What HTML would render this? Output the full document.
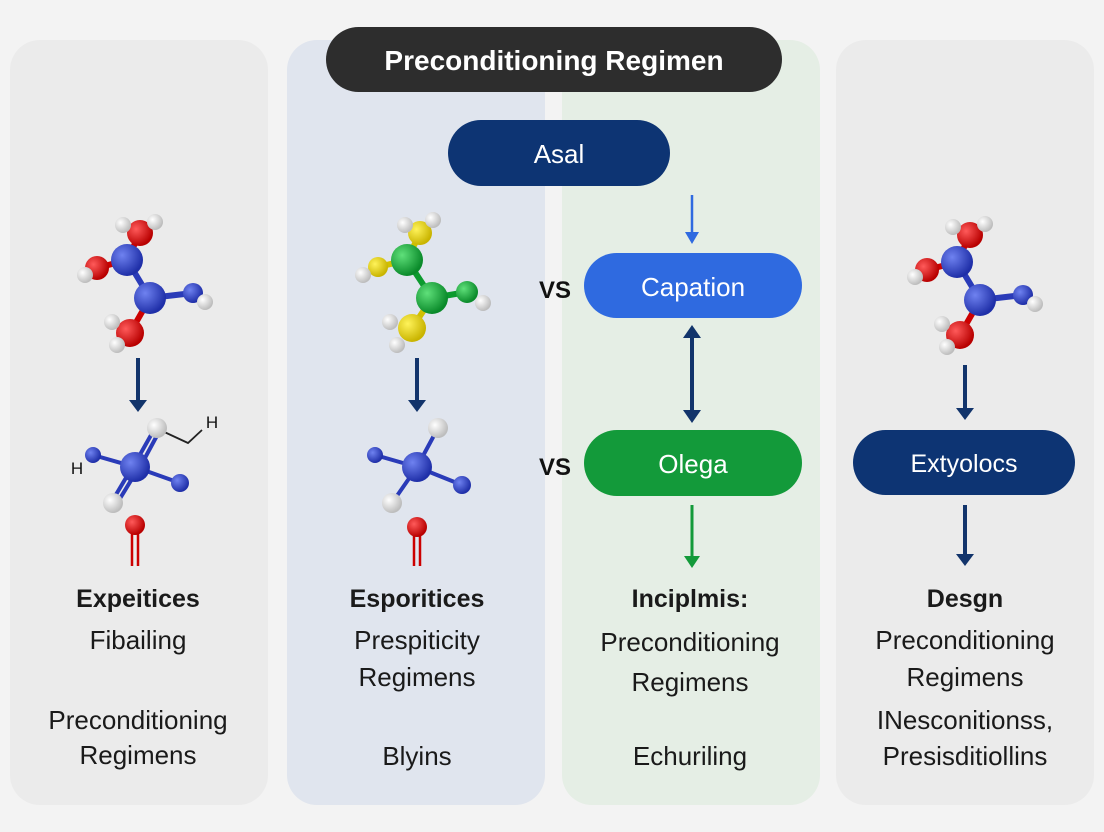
<!DOCTYPE html>
<html><head><meta charset="utf-8"><style>
html,body{margin:0;padding:0;background:#f3f3f3;}
svg{display:block;font-family:"Liberation Sans",sans-serif;}
</style></head><body>
<svg width="1104" height="832" viewBox="0 0 1104 832" xmlns="http://www.w3.org/2000/svg">
<defs>
<radialGradient id="gb" cx="35%" cy="35%" r="65%"><stop offset="0" stop-color="#6f82f0"/><stop offset="1" stop-color="#1f2fa8"/></radialGradient>
<radialGradient id="gr" cx="35%" cy="35%" r="65%"><stop offset="0" stop-color="#ff5a5a"/><stop offset="1" stop-color="#b80000"/></radialGradient>
<radialGradient id="gw" cx="35%" cy="35%" r="65%"><stop offset="0" stop-color="#ffffff"/><stop offset="1" stop-color="#bdbdbd"/></radialGradient>
<radialGradient id="gg" cx="35%" cy="35%" r="65%"><stop offset="0" stop-color="#5fe07a"/><stop offset="1" stop-color="#0a8a2a"/></radialGradient>
<radialGradient id="gy" cx="35%" cy="35%" r="65%"><stop offset="0" stop-color="#fff35a"/><stop offset="1" stop-color="#c9b400"/></radialGradient>
<marker id="an" markerWidth="8" markerHeight="8" refX="4" refY="4" orient="auto" markerUnits="userSpaceOnUse" viewBox="0 0 8 8"><path d="M0,0 L8,4 L0,8 z" fill="#12346b"/></marker>
</defs>
<rect width="1104" height="832" fill="#f3f3f3"/>
<rect x="10" y="40" width="258" height="765" rx="30" fill="#ebebeb"/>
<rect x="287" y="40" width="258" height="765" rx="30" fill="#e0e5ee"/>
<rect x="562" y="40" width="258" height="765" rx="30" fill="#e5eee5"/>
<rect x="836" y="40" width="258" height="765" rx="30" fill="#ebebeb"/>

<!-- molecule 1 -->
<g stroke-width="6" stroke-linecap="round">
<line x1="127" y1="260" x2="150" y2="298" stroke="#2a3bb8"/>
<line x1="127" y1="260" x2="140" y2="233" stroke="#c00"/>
<line x1="127" y1="260" x2="97" y2="268" stroke="#c00"/>
<line x1="150" y1="298" x2="130" y2="333" stroke="#c00"/>
<line x1="150" y1="298" x2="193" y2="293" stroke="#2a3bb8"/>
</g>
<circle cx="140" cy="233" r="13" fill="url(#gr)"/><circle cx="97" cy="268" r="12" fill="url(#gr)"/><circle cx="130" cy="333" r="14" fill="url(#gr)"/>
<circle cx="127" cy="260" r="16" fill="url(#gb)"/><circle cx="150" cy="298" r="16" fill="url(#gb)"/><circle cx="193" cy="293" r="10" fill="url(#gb)"/>
<g fill="url(#gw)"><circle cx="123" cy="225" r="8"/><circle cx="155" cy="222" r="8"/><circle cx="85" cy="275" r="8"/><circle cx="205" cy="302" r="8"/><circle cx="112" cy="322" r="8"/><circle cx="117" cy="345" r="8"/></g>
<line x1="138" y1="358" x2="138" y2="402" stroke="#12346b" stroke-width="4"/><path d="M129,400 L147,400 L138,412 z" fill="#12346b"/>
<g stroke="#2a3bb8" stroke-width="4"><line x1="135" y1="467" x2="93" y2="455"/><line x1="135" y1="467" x2="180" y2="483"/><line x1="133" y1="467" x2="155" y2="428"/><line x1="139" y1="469" x2="160" y2="430"/><line x1="133" y1="466" x2="111" y2="503"/><line x1="138" y1="469" x2="116" y2="505"/></g>
<polyline points="160,430 188,443 202,430" fill="none" stroke="#222" stroke-width="1.8"/>
<circle cx="135" cy="467" r="15" fill="url(#gb)"/><circle cx="93" cy="455" r="8" fill="url(#gb)"/><circle cx="180" cy="483" r="9" fill="url(#gb)"/>
<circle cx="157" cy="428" r="10" fill="url(#gw)"/><circle cx="113" cy="503" r="10" fill="url(#gw)"/>
<text x="77" y="474" font-size="17" text-anchor="middle" fill="#111">H</text><text x="212" y="428" font-size="17" text-anchor="middle" fill="#111">H</text>
<line x1="132" y1="530" x2="132" y2="566" stroke="#c00" stroke-width="2.5"/><line x1="138" y1="530" x2="138" y2="566" stroke="#c00" stroke-width="2.5"/>
<circle cx="135" cy="525" r="10" fill="url(#gr)"/>

<!-- molecule 2 -->
<g stroke-width="6" stroke-linecap="round">
<line x1="407" y1="260" x2="432" y2="298" stroke="#0c9a2e"/>
<line x1="407" y1="260" x2="420" y2="233" stroke="#d0c000"/>
<line x1="407" y1="260" x2="378" y2="267" stroke="#d0c000"/>
<line x1="432" y1="298" x2="412" y2="328" stroke="#d0c000"/>
<line x1="432" y1="298" x2="467" y2="292" stroke="#0c9a2e"/>
</g>
<circle cx="420" cy="233" r="12" fill="url(#gy)"/><circle cx="378" cy="267" r="10" fill="url(#gy)"/><circle cx="412" cy="328" r="14" fill="url(#gy)"/>
<circle cx="407" cy="260" r="16" fill="url(#gg)"/><circle cx="432" cy="298" r="16" fill="url(#gg)"/><circle cx="467" cy="292" r="11" fill="url(#gg)"/>
<g fill="url(#gw)"><circle cx="405" cy="225" r="8"/><circle cx="433" cy="220" r="8"/><circle cx="363" cy="275" r="8"/><circle cx="483" cy="303" r="8"/><circle cx="390" cy="322" r="8"/><circle cx="397" cy="345" r="8"/></g>
<line x1="417" y1="358" x2="417" y2="402" stroke="#12346b" stroke-width="4"/><path d="M408,400 L426,400 L417,412 z" fill="#12346b"/>
<g stroke="#2a3bb8" stroke-width="4"><line x1="417" y1="467" x2="375" y2="455"/><line x1="417" y1="467" x2="462" y2="485"/><line x1="417" y1="467" x2="438" y2="428"/><line x1="417" y1="467" x2="392" y2="503"/></g>
<circle cx="417" cy="467" r="15" fill="url(#gb)"/><circle cx="375" cy="455" r="8" fill="url(#gb)"/><circle cx="462" cy="485" r="9" fill="url(#gb)"/>
<circle cx="438" cy="428" r="10" fill="url(#gw)"/><circle cx="392" cy="503" r="10" fill="url(#gw)"/>
<line x1="414" y1="530" x2="414" y2="566" stroke="#c00" stroke-width="2.5"/><line x1="420" y1="530" x2="420" y2="566" stroke="#c00" stroke-width="2.5"/>
<circle cx="417" cy="527" r="10" fill="url(#gr)"/>

<!-- molecule 4 -->
<g transform="translate(830,2)">
<g stroke-width="6" stroke-linecap="round">
<line x1="127" y1="260" x2="150" y2="298" stroke="#2a3bb8"/>
<line x1="127" y1="260" x2="140" y2="233" stroke="#c00"/>
<line x1="127" y1="260" x2="97" y2="268" stroke="#c00"/>
<line x1="150" y1="298" x2="130" y2="333" stroke="#c00"/>
<line x1="150" y1="298" x2="193" y2="293" stroke="#2a3bb8"/>
</g>
<circle cx="140" cy="233" r="13" fill="url(#gr)"/><circle cx="97" cy="268" r="12" fill="url(#gr)"/><circle cx="130" cy="333" r="14" fill="url(#gr)"/>
<circle cx="127" cy="260" r="16" fill="url(#gb)"/><circle cx="150" cy="298" r="16" fill="url(#gb)"/><circle cx="193" cy="293" r="10" fill="url(#gb)"/>
<g fill="url(#gw)"><circle cx="123" cy="225" r="8"/><circle cx="155" cy="222" r="8"/><circle cx="85" cy="275" r="8"/><circle cx="205" cy="302" r="8"/><circle cx="112" cy="322" r="8"/><circle cx="117" cy="345" r="8"/></g>
</g>
<line x1="965" y1="365" x2="965" y2="410" stroke="#12346b" stroke-width="4"/><path d="M956,408 L974,408 L965,420 z" fill="#12346b"/>
<rect x="853" y="430" width="222" height="65" rx="32.5" fill="#0d3473"/>
<text x="964" y="472" font-size="25" fill="#fff" text-anchor="middle">Extyolocs</text>
<line x1="965" y1="505" x2="965" y2="556" stroke="#12346b" stroke-width="4"/><path d="M956,554 L974,554 L965,566 z" fill="#12346b"/>

<!-- center -->
<rect x="326" y="27" width="456" height="65" rx="32.5" fill="#2d2d2d"/>
<text x="554" y="70" font-size="28" font-weight="bold" fill="#fff" text-anchor="middle">Preconditioning Regimen</text>
<rect x="448" y="120" width="222" height="66" rx="33" fill="#0d3473"/>
<text x="559" y="163" font-size="26" fill="#fff" text-anchor="middle">Asal</text>
<line x1="692" y1="195" x2="692" y2="234" stroke="#2f6ae0" stroke-width="2.5"/><path d="M685,232 L699,232 L692,244 z" fill="#2f6ae0"/>
<rect x="584" y="253" width="218" height="65" rx="32.5" fill="#2f6ae0"/>
<text x="693" y="296" font-size="26" fill="#fff" text-anchor="middle">Capation</text>
<text x="555" y="298" font-size="24" font-weight="bold" fill="#111" text-anchor="middle">VS</text>
<line x1="692" y1="335" x2="692" y2="412" stroke="#12346b" stroke-width="4"/>
<path d="M683,338 L701,338 L692,325 z" fill="#12346b"/><path d="M683,410 L701,410 L692,423 z" fill="#12346b"/>
<rect x="584" y="430" width="218" height="66" rx="33" fill="#139a3a"/>
<text x="693" y="473" font-size="26" fill="#fff" text-anchor="middle">Olega</text>
<text x="555" y="475" font-size="24" font-weight="bold" fill="#111" text-anchor="middle">VS</text>
<line x1="692" y1="505" x2="692" y2="558" stroke="#139a3a" stroke-width="3"/><path d="M684,556 L700,556 L692,568 z" fill="#139a3a"/>

<!-- texts -->
<g font-size="26" fill="#1a1a1a" text-anchor="middle">
<text x="138" y="607" font-weight="bold" font-size="25">Expeitices</text>
<text x="138" y="649">Fibailing</text>
<text x="138" y="729">Preconditioning</text>
<text x="138" y="764">Regimens</text>
<text x="417" y="607" font-weight="bold" font-size="25">Esporitices</text>
<text x="417" y="649">Prespiticity</text>
<text x="417" y="686">Regimens</text>
<text x="417" y="765">Blyins</text>
<text x="690" y="607" font-weight="bold" font-size="25">Inciplmis:</text>
<text x="690" y="651">Preconditioning</text>
<text x="690" y="691">Regimens</text>
<text x="690" y="765">Echuriling</text>
<text x="965" y="607" font-weight="bold" font-size="25">Desgn</text>
<text x="965" y="649">Preconditioning</text>
<text x="965" y="686">Regimens</text>
<text x="965" y="729">INesconitionss,</text>
<text x="965" y="765">Presisditiollins</text>
</g>
</svg>
</body></html>
